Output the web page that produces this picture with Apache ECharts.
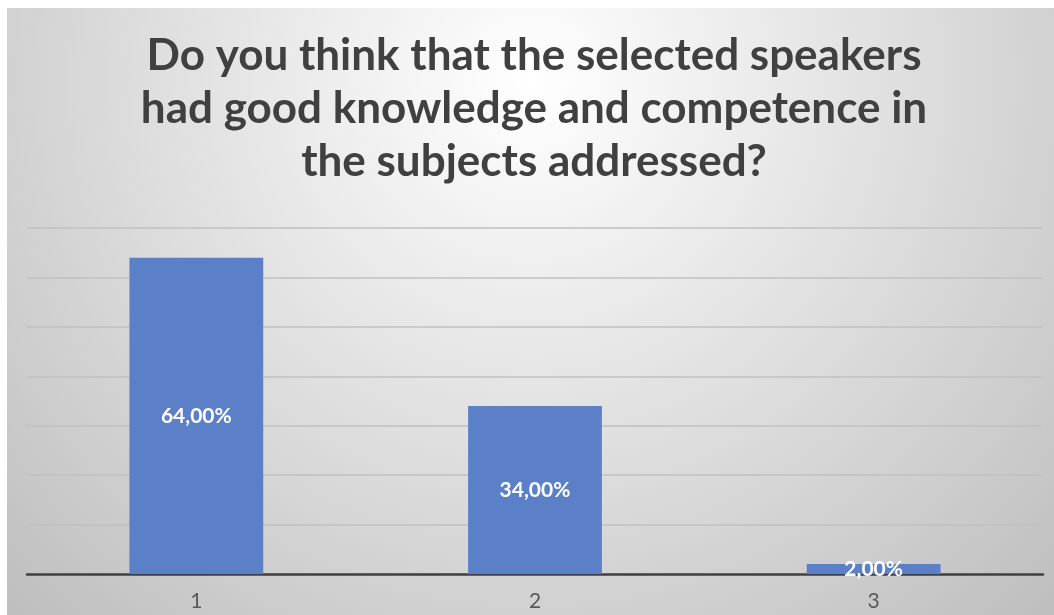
<!DOCTYPE html>
<html>
<head>
<meta charset="utf-8">
<script src="https://cdn.jsdelivr.net/npm/echarts@6/dist/echarts.min.js"></script>
<style>
  html, body { margin: 0; padding: 0; background: #fff; }
  #chart { width: 1054px; height: 615px; }
</style>
</head>
<body>
<div id="chart"></div>
<script>
const titleLines = [
  'Do you think that the selected speakers',
  'had good knowledge and competence in',
  'the subjects addressed?'
]
const categories = ['1', '2', '3']
const values = [64, 34, 2]
const yTicks = [0, 10, 20, 30, 40, 50, 60, 70]

const chart = echarts.init(document.getElementById('chart'))

const options = {
  backgroundColor: '#fff',
  animation: false,
  graphic: [
    {
      type: 'rect',
      z: -100,
      silent: true,
      shape: { x: 7, y: 8, width: 1047, height: 607 },
      style: {
        fill: {
          type: 'radial',
          x: 0.5,
          y: 0.12,
          r: 1.25,
          colorStops: [
            { offset: 0, color: '#ffffff' },
            { offset: 1, color: '#bdbdbd' }
          ]
        }
      }
    }
  ],
  title: {
    text: titleLines.join('\n'),
    left: 534,
    top: 29,
    padding: 0,
    textAlign: 'center',
    textStyle: {
      fontFamily: 'Lato',
      fontWeight: 'bold',
      fontSize: 44,
      lineHeight: 53,
      color: '#404040'
    }
  },
  grid: {
    left: 27,
    right: 11,
    top: 228,
    bottom: 41
  },
  xAxis: {
    type: 'category',
    data: categories,
    axisTick: { show: false },
    axisLine: { lineStyle: { color: '#404040', width: 2.5 } },
    axisLabel: {
      margin: 17,
      fontFamily: 'Lato',
      fontSize: 21,
      color: '#595959'
    }
  },
  yAxis: {
    type: 'value',
    min: yTicks[0],
    max: yTicks[yTicks.length - 1],
    interval: 10,
    axisLabel: { show: false },
    axisLine: { show: false },
    axisTick: { show: false },
    splitLine: { lineStyle: { color: '#c0c0c0', width: 1.5 } }
  },
  series: [
    {
      type: 'bar',
      data: values,
      barWidth: '39.5%',
      itemStyle: { color: '#5b80c8' },
      label: {
        show: true,
        position: 'inside',
        fontFamily: 'Lato',
        fontWeight: 'bold',
        fontSize: 21,
        color: '#fff',
        formatter: p => p.value.toFixed(2).replace('.', ',') + '%'
      }
    }
  ]
}

chart.setOption(options)
</script>
</body>
</html>
